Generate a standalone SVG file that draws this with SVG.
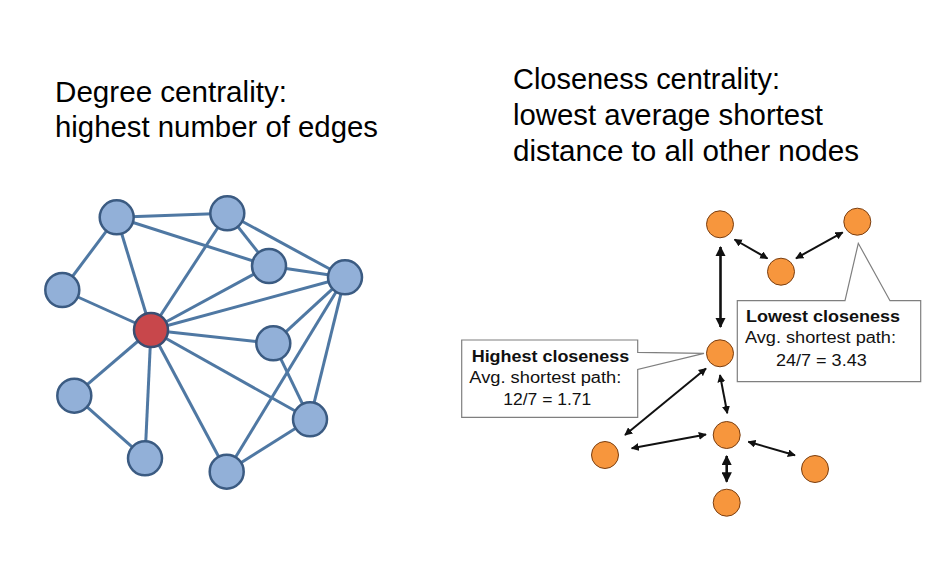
<svg xmlns="http://www.w3.org/2000/svg" width="942" height="564" viewBox="0 0 942 564">
<defs>
<style>
.title{font-family:"Liberation Sans",Arial,sans-serif;font-size:29px;fill:#000}
.edge{stroke:#4f78a3;stroke-width:3;fill:none}
.bn{fill:#92b0d8;stroke:#3b5b82;stroke-width:2.5}
.rn{fill:#c8474b;stroke:#3b4e72;stroke-width:2.5}
.on{fill:#f7963d;stroke:#7a3e10;stroke-width:1}
.arr{stroke:#111;stroke-width:2;fill:none;marker-start:url(#ah);marker-end:url(#ah)}
.box{fill:#fff;stroke:#7f7f7f;stroke-width:1.2}
.lb{font-family:"Liberation Sans",Arial,sans-serif;font-size:16px;fill:#111}
.lbb{font-family:"Liberation Sans",Arial,sans-serif;font-size:16px;font-weight:bold;fill:#111}
</style>
<marker id="ah" viewBox="0 0 10 10" refX="9" refY="5" markerWidth="4" markerHeight="4" orient="auto-start-reverse" markerUnits="strokeWidth">
<path d="M0,0 L10,5 L0,10 z" fill="#111"/>
</marker>
</defs>
<rect width="942" height="564" fill="#fff"/>

<g id="title-left">
<text class="title" x="55" y="102" textLength="232" lengthAdjust="spacingAndGlyphs">Degree centrality:</text>
<text class="title" x="55" y="137" textLength="323" lengthAdjust="spacingAndGlyphs">highest number of edges</text>
</g>
<g id="title-right">
<text class="title" x="513" y="89" textLength="267" lengthAdjust="spacingAndGlyphs">Closeness centrality:</text>
<text class="title" x="513" y="125" textLength="310" lengthAdjust="spacingAndGlyphs">lowest average shortest</text>
<text class="title" x="513" y="161" textLength="346" lengthAdjust="spacingAndGlyphs">distance to all other nodes</text>
</g>

<g id="degree-edges">
<line class="edge" x1="116.7" y1="217.3" x2="227.3" y2="213.3"/>
<line class="edge" x1="116.7" y1="217.3" x2="269" y2="266"/>
<line class="edge" x1="116.7" y1="217.3" x2="62.3" y2="290"/>
<line class="edge" x1="116.7" y1="217.3" x2="151" y2="330"/>
<line class="edge" x1="227.3" y1="213.3" x2="269" y2="266"/>
<line class="edge" x1="227.3" y1="213.3" x2="345" y2="277.3"/>
<line class="edge" x1="227.3" y1="213.3" x2="151" y2="330"/>
<line class="edge" x1="269" y1="266" x2="345" y2="277.3"/>
<line class="edge" x1="269" y1="266" x2="151" y2="330"/>
<line class="edge" x1="345" y1="277.3" x2="151" y2="330"/>
<line class="edge" x1="345" y1="277.3" x2="273.3" y2="343.3"/>
<line class="edge" x1="345" y1="277.3" x2="310" y2="419.3"/>
<line class="edge" x1="345" y1="277.3" x2="226.7" y2="471.7"/>
<line class="edge" x1="62.3" y1="290" x2="151" y2="330"/>
<line class="edge" x1="151" y1="330" x2="273.3" y2="343.3"/>
<line class="edge" x1="151" y1="330" x2="310" y2="419.3"/>
<line class="edge" x1="151" y1="330" x2="226.7" y2="471.7"/>
<line class="edge" x1="151" y1="330" x2="145" y2="458.3"/>
<line class="edge" x1="151" y1="330" x2="74.3" y2="395.7"/>
<line class="edge" x1="273.3" y1="343.3" x2="310" y2="419.3"/>
<line class="edge" x1="310" y1="419.3" x2="226.7" y2="471.7"/>
<line class="edge" x1="74.3" y1="395.7" x2="145" y2="458.3"/>
</g>
<g id="dn-a"><circle class="bn" cx="116.7" cy="217.3" r="17"/></g>
<g id="dn-b"><circle class="bn" cx="227.3" cy="213.3" r="17"/></g>
<g id="dn-c"><circle class="bn" cx="269" cy="266" r="17"/></g>
<g id="dn-d"><circle class="bn" cx="345" cy="277.3" r="17"/></g>
<g id="dn-e"><circle class="bn" cx="62.3" cy="290" r="17"/></g>
<g id="dn-center"><circle class="rn" cx="151" cy="330" r="17"/></g>
<g id="dn-g"><circle class="bn" cx="273.3" cy="343.3" r="17"/></g>
<g id="dn-h"><circle class="bn" cx="74.3" cy="395.7" r="17"/></g>
<g id="dn-i"><circle class="bn" cx="310" cy="419.3" r="17"/></g>
<g id="dn-j"><circle class="bn" cx="145" cy="458.3" r="17"/></g>
<g id="dn-k"><circle class="bn" cx="226.7" cy="471.7" r="17"/></g>

<g id="closeness-edges">
<line class="arr" x1="720.5" y1="247" x2="720.5" y2="327" style="stroke-width:2.6"/>
<line class="arr" x1="734.5" y1="239.5" x2="767.5" y2="258.5"/>
<line class="arr" x1="796" y1="258.3" x2="842.7" y2="232.3"/>
<line class="arr" x1="706" y1="368.5" x2="625" y2="435"/>
<line class="arr" x1="720" y1="375" x2="727.3" y2="413.3"/>
<line class="arr" x1="631.7" y1="448.3" x2="706" y2="434.5"/>
<line class="arr" x1="748.3" y1="441.7" x2="795" y2="455.3"/>
<line class="arr" x1="726.7" y1="456" x2="726.7" y2="481.7" style="stroke-width:2.6"/>
</g>
<g id="cn-1"><circle class="on" cx="720" cy="224.3" r="13.5"/></g>
<g id="cn-2"><circle class="on" cx="857.3" cy="221.7" r="13.5"/></g>
<g id="cn-3"><circle class="on" cx="781" cy="271.7" r="13.5"/></g>
<g id="cn-4"><circle class="on" cx="720" cy="353.3" r="13.5"/></g>
<g id="cn-5"><circle class="on" cx="726.7" cy="435" r="13.5"/></g>
<g id="cn-6"><circle class="on" cx="605" cy="455" r="13.5"/></g>
<g id="cn-7"><circle class="on" cx="815" cy="469" r="13.5"/></g>
<g id="cn-8"><circle class="on" cx="726.7" cy="502.7" r="13.5"/></g>

<g id="callout-highest">
<path class="box" d="M461.7,340 H637.7 V352.3 L704,353.3 L637.7,369.5 V417.3 H461.7 Z"/>
<text class="lbb" x="471.7" y="361.5" textLength="157.5" lengthAdjust="spacingAndGlyphs">Highest closeness</text>
<text class="lb" x="469.3" y="383.3" textLength="152" lengthAdjust="spacingAndGlyphs">Avg. shortest path:</text>
<text class="lb" x="503.3" y="404.5" textLength="88" lengthAdjust="spacingAndGlyphs">12/7 = 1.71</text>
</g>
<g id="callout-lowest">
<path class="box" d="M737.3,300.7 H845 L858.3,243.3 L890,300.7 H920.7 V381.7 H737.3 Z"/>
<text class="lbb" x="746" y="321.7" textLength="154" lengthAdjust="spacingAndGlyphs">Lowest closeness</text>
<text class="lb" x="745" y="343.3" textLength="151" lengthAdjust="spacingAndGlyphs">Avg. shortest path:</text>
<text class="lb" x="776" y="365.7" textLength="90.7" lengthAdjust="spacingAndGlyphs">24/7 = 3.43</text>
</g>
</svg>
